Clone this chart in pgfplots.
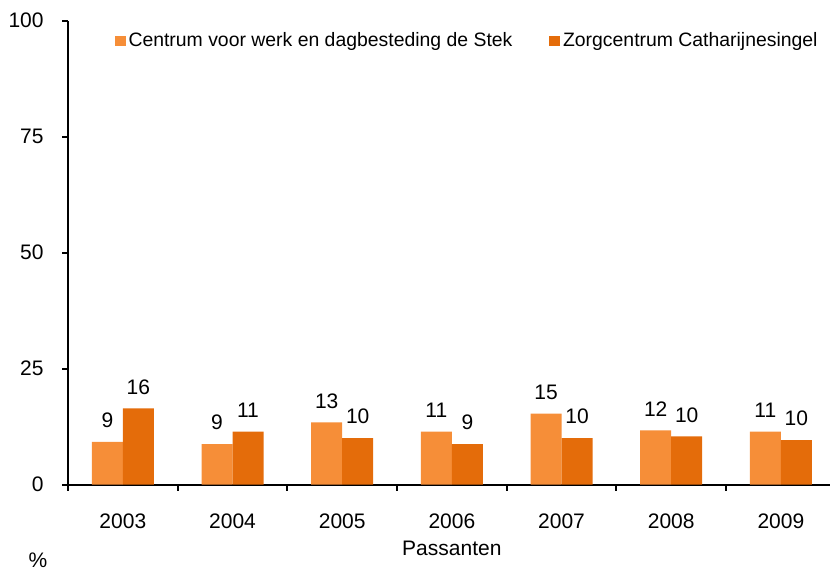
\documentclass[border=0pt]{standalone}
\usepackage{fontspec}
\setmainfont{Liberation Sans}
\usepackage{pgfplots}
\pgfplotsset{compat=1.18}
\usetikzlibrary{calc}
\definecolor{stek}{RGB}{246,142,56}
\definecolor{zorg}{RGB}{228,108,10}
\begin{document}
\begin{tikzpicture}
\begin{axis}[
  scale only axis, width=383.8pt, height=232pt,
  ybar=0pt, bar width=15.5pt,
  xmin=-0.5, xmax=6.5, ymin=0, ymax=100,
  axis x line=bottom, axis y line=left,
  axis line style={line width=1pt, -},
  xtick={-0.5,0.5,...,6.5}, xticklabels={},
  extra x ticks={0,1,2,3,4,5,6},
  extra x tick labels={2003,2004,2005,2006,2007,2008,2009},
  extra x tick style={major tick length=0pt},
  ytick={0,25,50,75,100},
  tick align=outside, major tick length=3pt,
  tick style={line width=1pt, black},
  tick label style={font=\fontsize{10.5}{12}\selectfont},
  /pgf/number format/assume math mode=true,
  yticklabel style={anchor=east, inner sep=0pt, xshift=-9pt},
  xticklabel style={anchor=north, inner sep=0pt, yshift=-14.5pt},
  xlabel={Passanten},
  xlabel style={at={(axis description cs:0.5,0)}, anchor=center, yshift=-32pt, font=\fontsize{10.5}{12}\selectfont},
  clip=false,
  nodes near coords,
  every node near coord/.append style={font=\fontsize{10.5}{12}\selectfont, inner sep=0pt, yshift=6.8pt, /pgf/number format/fixed, /pgf/number format/precision=0},
  legend style={draw=none, fill=none, at={(0.0525,0.9565)}, anchor=west,
    font=\fontsize{9.7}{11}\selectfont, legend columns=2,
    /tikz/every even column/.append style={column sep=17pt},
    nodes={inner sep=1.4pt}},
]
\addplot[fill=stek, draw=none, legend image code/.code={\fill[stek] (0pt,-2.5pt) rectangle (5.5pt,2.5pt);}]
  coordinates {(0,9.2) (1,8.7) (2,13.4) (3,11.4) (4,15.3) (5,11.7) (6,11.4)};
\addlegendentry{Centrum voor werk en dagbesteding de Stek}
\addplot[fill=zorg, draw=none, legend image code/.code={\fill[zorg] (0pt,-2.5pt) rectangle (5.5pt,2.5pt);}]
  coordinates {(0,16.4) (1,11.4) (2,10.0) (3,8.7) (4,10.0) (5,10.4) (6,9.6)};
\addlegendentry{Zorgcentrum Catharijnesingel}
\node[font=\fontsize{10.5}{12}\selectfont] at (rel axis cs:0,0) [xshift=-15pt, yshift=-38pt] {\%};
\coordinate (bl) at (rel axis cs:0,0);
\coordinate (tr) at (rel axis cs:1,1);
\end{axis}
\pgfresetboundingbox
\path[use as bounding box] ($(bl)+(-34pt,-44.25pt)$) rectangle ($(tr)+(-2.85pt,10.25pt)$);
\end{tikzpicture}
\end{document}
